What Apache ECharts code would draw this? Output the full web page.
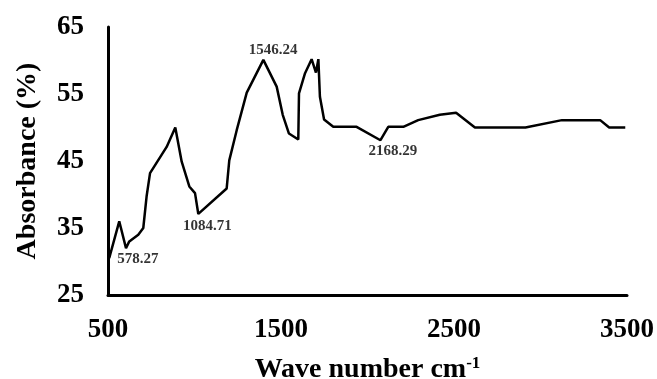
<!DOCTYPE html>
<html>
<head>
<meta charset="utf-8">
<script src="https://cdn.jsdelivr.net/npm/echarts@6/dist/echarts.min.js"></script>
<style>html,body{margin:0;padding:0;background:#fff}#c{width:657px;height:379px}</style>
</head>
<body>
<div id="c"></div>
<script>
const waveNumbers = [507, 565, 604, 623, 675, 704, 723, 743, 839, 889, 926, 970, 1003, 1022, 1186, 1201, 1244, 1302, 1398, 1475, 1510, 1546, 1600, 1604, 1639, 1677, 1702, 1716, 1725, 1749, 1802, 1937, 2075, 2120, 2207, 2293, 2418, 2512, 2621, 2913, 3124, 3345, 3397, 3490];
const absorbance = [30.5, 36.0, 32.0, 33.0, 34.0, 35.0, 39.7, 43.2, 47.1, 50.0, 44.9, 41.2, 40.2, 37.1, 40.9, 45.1, 49.6, 55.2, 60.1, 56.1, 51.9, 49.1, 48.2, 55.1, 58.1, 60.2, 58.2, 60.2, 54.6, 51.2, 50.1, 50.1, 48.1, 50.1, 50.1, 51.1, 51.9, 52.2, 50.0, 50.0, 51.1, 51.1, 50.0, 50.0];
const peakLabels = ['578.27', '1084.71', '1546.24', '2168.29'];
const peakLabelX = [673, 1075, 1454, 2147];
const peakLabelY = [30.4, 35.3, 61.6, 46.5];
const xTicks = [500, 1500, 2500, 3500];
const yTicks = [25, 35, 45, 55, 65];

const font = '"Liberation Serif", "Times New Roman", serif';
const chart = echarts.init(document.getElementById('c'));
chart.setOption({
  animation: false,
  grid: { left: 108, right: 30, top: 27, bottom: 84, containLabel: false, outerBoundsMode: 'none' },
  xAxis: {
    type: 'value', min: xTicks[0], max: xTicks[xTicks.length - 1], interval: 1000,
    axisLine: { lineStyle: { color: '#000', width: 3 } },
    axisTick: { show: false }, splitLine: { show: false },
    axisLabel: { color: '#000', fontFamily: font, fontWeight: 'bold', fontSize: 27, margin: 22, formatter: v => String(v) },
    name: '{a|Wave number cm}{b|-1}', nameLocation: 'middle', nameGap: 60,
    nameTextStyle: {
      rich: {
        a: { fontFamily: font, fontWeight: 'bold', fontSize: 28, color: '#000' },
        b: { fontFamily: font, fontWeight: 'bold', fontSize: 17, color: '#000', padding: [0, 0, 13, 0] }
      }
    }
  },
  yAxis: {
    type: 'value', min: yTicks[0], max: yTicks[yTicks.length - 1], interval: 10,
    axisLine: { show: true, lineStyle: { color: '#000', width: 3 } },
    axisTick: { show: false }, splitLine: { show: false },
    axisLabel: { color: '#000', fontFamily: font, fontWeight: 'bold', fontSize: 27, margin: 24 },
    name: 'Absorbance (%)', nameLocation: 'middle', nameGap: 66,
    nameTextStyle: { color: '#000', fontFamily: font, fontWeight: 'bold', fontSize: 28 }
  },
  series: [
    {
      type: 'line', data: waveNumbers.map((w, i) => [w, absorbance[i]]),
      showSymbol: false, symbol: 'none',
      lineStyle: { color: '#000', width: 2.5 }
    },
    {
      type: 'scatter', symbolSize: 0, silent: true,
      data: peakLabels.map((t, i) => ({ value: [peakLabelX[i], peakLabelY[i]], name: t })),
      label: { show: true, position: 'inside', formatter: p => p.name, color: '#000', textBorderWidth: 0, fontFamily: font, fontWeight: 'bold', fontSize: 15 }
    }
  ]
});
</script>
</body>
</html>
